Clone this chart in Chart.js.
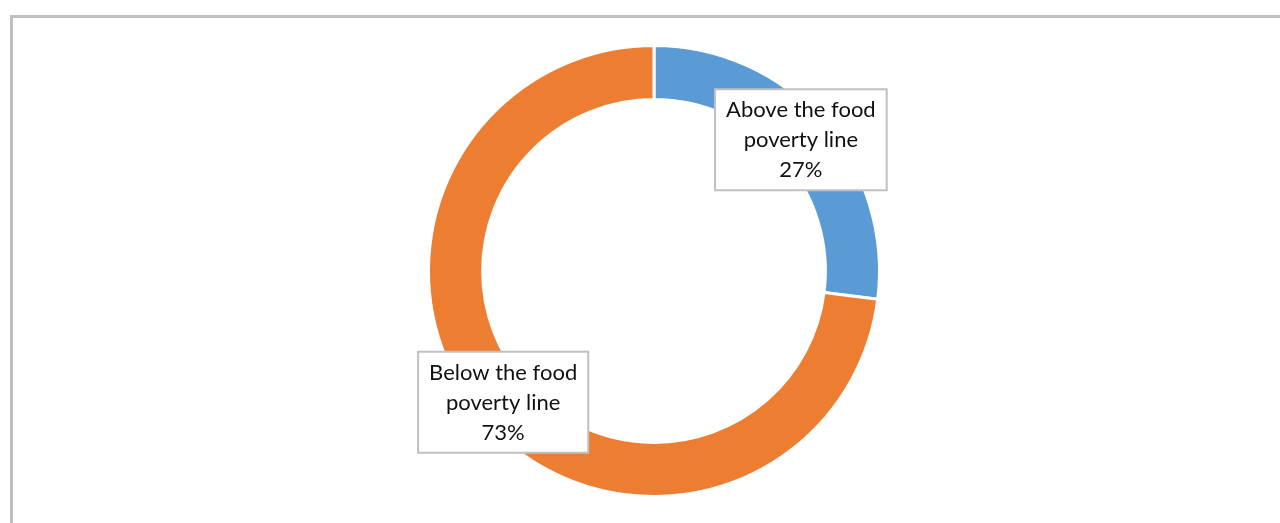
<!DOCTYPE html>
<html>
<head>
<meta charset="utf-8">
<script src="https://cdn.jsdelivr.net/npm/chart.js@4.4.0/dist/chart.umd.min.js"></script>
<style>
  html, body { margin: 0; padding: 0; background: #fff; overflow: hidden; }
  .frame {
    position: absolute; left: 10px; top: 15px; width: 1400px; height: 600px;
    border-left: 3px solid #bfbfbf; border-top: 3px solid #bfbfbf;
  }
  .wrap { position: absolute; left: 0; top: 0; width: 1280px; height: 523px; }
</style>
</head>
<body>
<div class="frame"></div>
<div class="wrap"><canvas id="povertyChart" width="1280" height="523"></canvas></div>
<script>
// chart data
const categories = [["Above the food", "poverty line"], ["Below the food", "poverty line"]];
const shares = [27, 73];
const sliceColors = ["#5b9bd5", "#ed7d31"];

// draws the boxed labels at the middle of each ring slice
const boxLabels = {
  id: "boxLabels",
  afterDatasetsDraw(chart) {
    const ctx = chart.ctx;
    const meta = chart.getDatasetMeta(0);
    const data = chart.data.datasets[0].data;
    const total = data.reduce((a, b) => a + b, 0);
    ctx.save();
    ctx.font = '22px "Lato", "Open Sans", sans-serif';
    ctx.textAlign = "center";
    ctx.textBaseline = "middle";
    meta.data.forEach(function (arc, i) {
      const pos = arc.tooltipPosition();
      const lines = chart.data.labels[i].concat([Math.round(data[i] / total * 100) + "%"]);
      const lineH = 30;
      let w = 0;
      lines.forEach(l => { w = Math.max(w, ctx.measureText(l).width); });
      const boxW = w + 22;
      const boxH = lines.length * lineH + 11;
      const x0 = pos.x - 2 - boxW / 2;
      const y0 = pos.y - boxH / 2;
      ctx.fillStyle = "#ffffff";
      ctx.fillRect(x0, y0, boxW, boxH);
      ctx.strokeStyle = "#c0c0c0";
      ctx.lineWidth = 2;
      ctx.strokeRect(x0, y0, boxW, boxH);
      ctx.fillStyle = "#111111";
      lines.forEach(function (l, j) {
        ctx.fillText(l, x0 + boxW / 2, y0 + 5 + lineH / 2 + j * lineH + 1);
      });
    });
    ctx.restore();
  }
};

new Chart(document.getElementById("povertyChart"), {
  type: "doughnut",
  data: {
    labels: categories,
    datasets: [{
      data: shares,
      backgroundColor: sliceColors,
      borderColor: "#ffffff",
      borderWidth: 3
    }]
  },
  options: {
    responsive: false,
    animation: false,
    cutout: "76%",
    layout: { padding: { left: 28, right: 0, top: 44, bottom: 25 } },
    plugins: {
      legend: { display: false },
      tooltip: { enabled: false }
    }
  },
  plugins: [boxLabels]
});
</script>
</body>
</html>
